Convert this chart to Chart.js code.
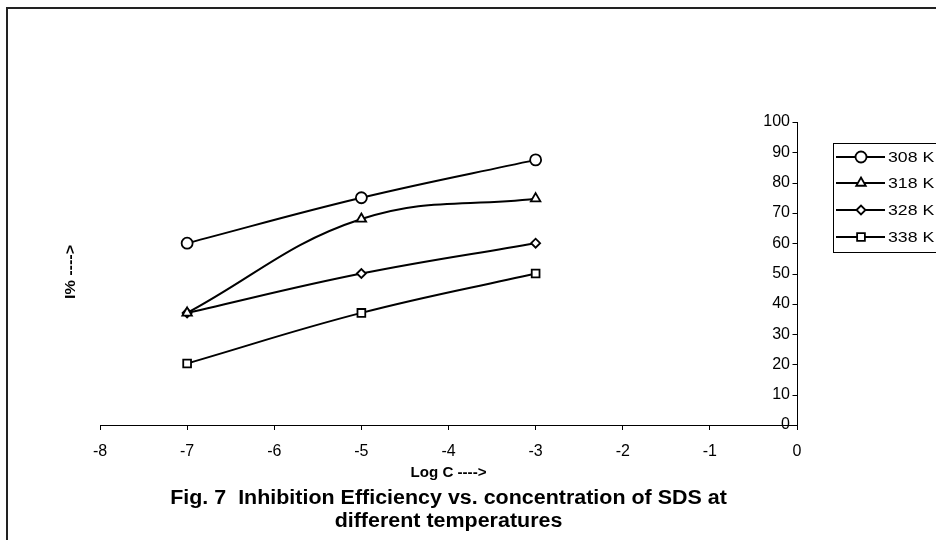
<!DOCTYPE html>
<html>
<head>
<meta charset="utf-8">
<script src="https://cdn.jsdelivr.net/npm/chart.js@4.4.1/dist/chart.umd.min.js"></script>
<style>
html,body{margin:0;padding:0;background:#fff;}
#wrap{position:relative;width:936px;height:540px;}
canvas{display:block;}
</style>
</head>
<body>
<div id="wrap"><canvas id="c" width="936" height="540"></canvas></div>
<script>
// ---- data ----
const logC = [-7, -5, -3];
const ie308 = [60, 75, 87.5];
const ie318 = [37, 68, 74.7];
const ie328 = [37, 50, 60];
const ie338 = [20.3, 37, 50];
const seriesLabels = ['308 K', '318 K', '328 K', '338 K'];
const seriesStyles = ['circle', 'triangle', 'rectRot', 'rect'];
const xTicks = [-8, -7, -6, -5, -4, -3, -2, -1, 0];
const yTicks = [0, 10, 20, 30, 40, 50, 60, 70, 80, 90, 100];
const xTitle = 'Log C ---->';
const yTitle = 'I% ---->';
const caption = ['Fig. 7  Inhibition Efficiency vs. concentration of SDS at', 'different temperatures'];

const FONT = '"Liberation Sans", Arial, sans-serif';
const allSeries = [ie308, ie318, ie328, ie338];
const radii = [5.5, 5.5, 4.5, 5.5];

const datasets = allSeries.map((vals, i) => ({
  label: seriesLabels[i],
  data: logC.map((x, j) => ({x: x, y: vals[j]})),
  borderColor: '#000',
  borderWidth: 2,
  backgroundColor: '#fff',
  pointStyle: seriesStyles[i],
  pointRadius: radii[i],
  pointBorderWidth: 1.8,
  pointBackgroundColor: '#fff',
  pointBorderColor: '#000',
  tension: 0.4,
  fill: false
}));

function stretchText(ctx, text, x, y, font, sx, align) {
  ctx.save();
  ctx.font = font;
  ctx.textAlign = align;
  ctx.textBaseline = 'middle';
  ctx.translate(x, y);
  ctx.scale(sx, 1);
  ctx.fillText(text, 0, 0);
  ctx.restore();
}

const decor = {
  id: 'decor',
  afterDraw(chart) {
    const ctx = chart.ctx;
    const xs = chart.scales.x, ys = chart.scales.y;
    ctx.save();
    // y tick marks to the left of the axis
    ctx.strokeStyle = '#000';
    ctx.lineWidth = 1;
    const ax = Math.round(xs.getPixelForValue(0)) + 0.5;
    yTicks.forEach(v => {
      const py = Math.round(ys.getPixelForValue(v)) + 0.5;
      ctx.beginPath(); ctx.moveTo(ax - 5, py); ctx.lineTo(ax, py); ctx.stroke();
    });
    const cx = (chart.chartArea.left + chart.chartArea.right) / 2;
    ctx.fillStyle = '#000';
    stretchText(ctx, xTitle, cx, 473, 'bold 14px ' + FONT, 1.08, 'center');
    stretchText(ctx, caption[0], cx, 499, 'bold 19.5px ' + FONT, 1.1, 'center');
    stretchText(ctx, caption[1], cx, 522, 'bold 19.5px ' + FONT, 1.1, 'center');
    // y title rotated
    ctx.save();
    ctx.translate(71, 272);
    ctx.rotate(-Math.PI / 2);
    stretchText(ctx, yTitle, 0, 0, 'bold 14px ' + FONT, 1.15, 'center');
    ctx.restore();
    // legend
    ctx.lineWidth = 1;
    ctx.strokeStyle = '#000';
    ctx.strokeRect(833.5, 143.5, 200, 109);
    const rows = [157, 183, 210, 237];
    chart.data.datasets.forEach((ds, i) => {
      const y = rows[i];
      ctx.lineWidth = 2;
      ctx.strokeStyle = '#000';
      ctx.beginPath(); ctx.moveTo(836, y); ctx.lineTo(885, y); ctx.stroke();
      ctx.fillStyle = '#fff';
      ctx.lineWidth = 1.8;
      Chart.helpers.drawPoint(ctx, {pointStyle: ds.pointStyle, radius: ds.pointRadius, borderWidth: 1.8, rotation: 0}, 861, y);
      ctx.fillStyle = '#000';
      stretchText(ctx, ds.label, 888, y + 1, '15px ' + FONT, 1.18, 'left');
    });
    // outer frame
    ctx.strokeStyle = '#222';
    ctx.lineWidth = 2;
    ctx.beginPath();
    ctx.moveTo(7, 545); ctx.lineTo(7, 8); ctx.lineTo(940, 8);
    ctx.stroke();
    ctx.restore();
  }
};

new Chart(document.getElementById('c'), {
  type: 'line',
  data: { datasets },
  options: {
    responsive: false,
    animation: false,
    events: [],
    layout: { padding: { left: 100, right: 139, top: 122, bottom: 0 } },
    plugins: { legend: { display: false }, tooltip: { enabled: false }, title: { display: false } },
    scales: {
      x: {
        type: 'linear',
        min: -8, max: 0,
        afterFit(s) { s.height = 115; },
        afterBuildTicks(s) { s.ticks = xTicks.map(v => ({value: v})); },
        grid: { display: true, drawOnChartArea: false, drawTicks: true, tickLength: 5, color: '#000', lineWidth: 1 },
        border: { display: true, color: '#000', width: 1 },
        ticks: { color: '#000', font: { family: FONT, size: 16 }, padding: 12, maxRotation: 0, autoSkip: false }
      },
      y: {
        type: 'linear',
        position: 'right',
        min: 0, max: 100,
        afterFit(s) { s.width = 0; },
        afterBuildTicks(s) { s.ticks = yTicks.map(v => ({value: v})); },
        grid: { display: true, drawOnChartArea: false, drawTicks: false, color: '#000' },
        border: { display: true, color: '#000', width: 1 },
        ticks: { mirror: true, color: '#000', font: { family: FONT, size: 16 }, padding: -7 }
      }
    }
  },
  plugins: [decor]
});
</script>
</body>
</html>
